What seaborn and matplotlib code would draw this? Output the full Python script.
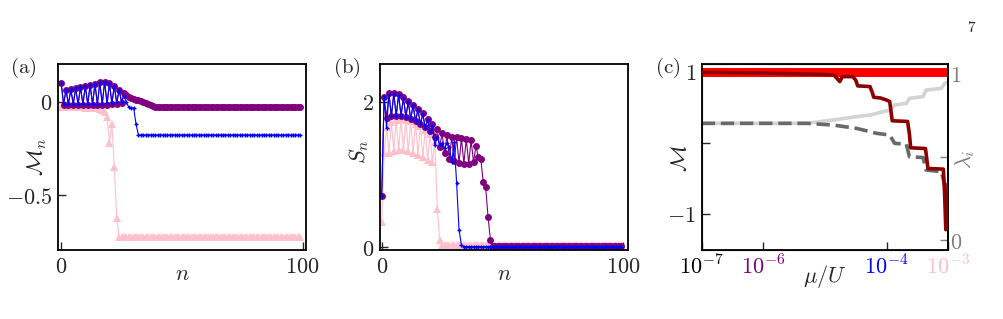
import numpy as np
import pandas as pd
import seaborn as sns
import matplotlib.pyplot as plt

# site index for panels (a) and (b)
n = np.arange(100)

# panel (a): magnetisation per site M_n
a_purple = ([0.100, -0.018, 0.063, -0.018, 0.067, -0.018, 0.072, -0.018, 0.078, -0.018,
             0.084, -0.018, 0.090, -0.018, 0.097, -0.018, 0.104, -0.018, 0.107, -0.016,
             0.100, -0.013, 0.085, -0.010, 0.065, -0.005, 0.048, 0.036, 0.027, 0.020,
             0.015, 0.011, 0.007, 0.004, 0.000, -0.006, -0.013, -0.020, -0.025]
            + [-0.027] * 61)
a_blue = ([0.100, -0.010, 0.063, -0.010, 0.067, -0.010, 0.072, -0.010, 0.078, -0.010,
           0.084, -0.010, 0.090, -0.010, 0.097, -0.010, 0.104, -0.010, 0.107, -0.008,
           0.100, -0.006, 0.085, -0.004, 0.065, 0.000, 0.030, -0.002, -0.030, -0.036,
           -0.032, -0.120]
          + [-0.178] * 68)
a_pink = ([-0.030] * 10
          + [-0.033, -0.033, -0.033, -0.034, -0.035, -0.036, -0.040, -0.045, -0.055, -0.080,
             -0.220, -0.120, -0.350, -0.620]
          + [-0.725] * 76)

# panel (b): entanglement entropy S_n
b_purple = ([0.70, 2.07, 1.78, 2.12, 1.80, 2.12, 1.81, 2.10, 1.81, 2.06,
             1.79, 2.01, 1.76, 1.96, 1.73, 1.90, 1.69, 1.84, 1.65, 1.76,
             1.60, 1.69, 1.52, 1.62, 1.38, 1.57, 1.29, 1.54, 1.22, 1.52,
             1.18, 1.51, 1.16, 1.50, 1.15, 1.49, 1.15, 1.47, 1.17, 1.39,
             1.24, 1.22, 0.90, 0.83, 0.42, 0.10]
            + [0.02] * 54)
b_blue = ([0.70, 2.07, 1.64, 2.10, 1.80, 2.10, 1.81, 2.09, 1.81, 2.05,
           1.79, 2.00, 1.76, 1.95, 1.73, 1.89, 1.69, 1.83, 1.64, 1.75,
           1.58, 1.66, 1.40, 1.52, 1.40, 1.43, 1.36, 1.43, 1.38, 1.17,
           1.45, 0.88, 0.24, 0.03]
          + [0.01] * 66)
b_pink = ([0.35, 1.29, 1.65, 1.30, 1.72, 1.32, 1.75, 1.33, 1.76, 1.33,
           1.75, 1.32, 1.73, 1.30, 1.70, 1.27, 1.66, 1.24, 1.61, 1.20,
           1.55, 1.17, 1.45, 0.53, 0.10]
          + [0.03] * 75)

# panel (c): total magnetisation vs log10(mu/U)
c_logmu_M = [-7.0, -6.0, -5.5, -5.0, -4.85, -4.80, -4.76, -4.72, -4.55, -4.50,
             -4.47, -4.27, -4.23, -4.21, -4.10, -4.00, -3.95, -3.93, -3.91, -3.66,
             -3.63, -3.61, -3.37, -3.35, -3.33, -3.08, -3.06, -3.04, -3.02, -3.00]
c_M = [0.99, 0.98, 0.97, 0.96, 0.95, 0.90, 0.86, 0.93, 0.93, 0.88,
       0.80, 0.79, 0.70, 0.64, 0.63, 0.60, 0.58, 0.45, 0.31, 0.30,
       0.12, -0.07, -0.08, -0.22, -0.36, -0.37, -0.70, -1.22, -0.90, -0.57]
# eigenvalues lambda_i (right axis)
c_logmu_lam = [-7.0, -5.3, -4.87, -4.49, -4.27, -4.16, -3.95, -3.87, -3.68, -3.63,
               -3.41, -3.36, -3.11, -3.06, -3.00]
c_lam_low = [0.70, 0.70, 0.69, 0.67, 0.65, 0.64, 0.63, 0.58, 0.575, 0.50,
             0.495, 0.42, 0.41, 0.33, 0.33]
c_lam_high = [0.70, 0.70, 0.72, 0.74, 0.75, 0.76, 0.78, 0.81, 0.82, 0.85,
              0.86, 0.90, 0.91, 0.94, 0.95]
c_band = [0.93, 1.05]

# x tick labels of (c) and their colours
c_xticks = [1e-7, 1e-6, 1e-4, 1e-3]
c_xticklabels = [r'$10^{-7}$', r'$10^{-6}$', r'$10^{-4}$', r'$10^{-3}$']
c_xtickcolors = ['black', 'purple', 'blue', 'pink']

sns.set_style("ticks")
plt.rcParams['font.family'] = ['DejaVu Serif']
plt.rcParams['mathtext.fontset'] = 'cm'

fig = plt.figure(figsize=(10.04, 3.19), dpi=100)
axa = fig.add_axes([0.0578, 0.2163, 0.247, 0.583])
axb = fig.add_axes([0.3785, 0.2163, 0.2467, 0.583])
axc = fig.add_axes([0.6989, 0.2163, 0.2456, 0.583])

line_kw = dict(lw=0.8, estimator=None, sort=False, legend=False)


def plot_series(ax, pink, purple, blue):
    sns.lineplot(x=n, y=pink, ax=ax, color='pink', marker='^', markersize=6,
                 markeredgewidth=0, **line_kw)
    sns.lineplot(x=n, y=purple, ax=ax, color='purple', marker='o', markersize=5,
                 markeredgewidth=0, **line_kw)
    sns.lineplot(x=n, y=blue, ax=ax, color='blue', marker='+', markersize=3,
                 markeredgewidth=1, markeredgecolor='blue', **line_kw)


plot_series(axa, a_pink, a_purple, a_blue)
plot_series(axb, b_pink, b_purple, b_blue)

for ax in (axa, axb):
    ax.set_xticks([0, 100])
    ax.set_xticklabels(['$0$', '$100$'])
    ax.set_xlabel('$n$', fontsize=16)
    ax.xaxis.set_label_coords(0.5, -0.07)

axa.set_xlim(-1.3, 101.4)
axa.set_ylim(-0.794, 0.202)
axa.set_yticks([0, -0.5])
axa.set_yticklabels(['$0$', r'$-0.5$'])
axa.set_ylabel(r'$\mathcal{M}_n$', fontsize=16)
axa.yaxis.set_label_coords(-0.035, 0.5)

axb.set_xlim(-0.7, 101.8)
axb.set_ylim(-0.037, 2.518)
axb.set_yticks([0, 2])
axb.set_yticklabels(['$0$', '$2$'])
axb.set_ylabel('$S_n$', fontsize=16)
axb.yaxis.set_label_coords(-0.035, 0.53)

# panel (c)
mu_M = 10 ** np.array(c_logmu_M)
mu_lam = 10 ** np.array(c_logmu_lam)
axc.fill_between([1e-7, 1e-3], c_band[0], c_band[1], color='red', lw=0, zorder=1)
sns.lineplot(x=mu_M, y=c_M, ax=axc, color='darkred', lw=2.6, estimator=None,
             sort=False, legend=False, zorder=3)
axc.set_xscale('log')
axc.set_xlim(1e-7, 1e-3)
axc.set_ylim(-1.506, 1.107)
axc.set_xticks(c_xticks)
axc.xaxis.set_minor_locator(plt.NullLocator())
axc.set_xticklabels(c_xticklabels)
for lab, col in zip(axc.get_xticklabels(), c_xtickcolors):
    lab.set_color(col)
axc.set_yticks([1, 0, -1])
axc.set_yticklabels(['$1$', '', r'$-1$'])
axc.set_xlabel(r'$\mu/U$', fontsize=16)
axc.xaxis.set_label_coords(0.5, -0.07)
axc.set_ylabel(r'$\mathcal{M}$', fontsize=16)
axc.yaxis.set_label_coords(-0.04, 0.49)

axc2 = axc.twinx()
sns.lineplot(x=mu_lam, y=c_lam_high, ax=axc2, color='lightgray', lw=2.6,
             estimator=None, sort=False, legend=False)
sns.lineplot(x=mu_lam, y=c_lam_low, ax=axc2, color='dimgray', lw=2.6,
             linestyle='--', dashes=(3, 1.4), estimator=None, sort=False, legend=False)
axc2.set_xlim(1e-7, 1e-3)
axc2.set_ylim(-0.06, 1.056)
axc2.set_yticks([0, 0.5, 1])
axc2.set_yticklabels(['$0$', '', '$1$'])
axc2.tick_params(axis='y', direction='in', length=6, width=1, color='gray',
                 labelcolor='gray', labelsize=16, pad=1)
axc2.set_ylabel(r'$\lambda_i$', fontsize=16, color='gray')
axc2.yaxis.set_label_coords(1.02, 0.49)
axc2.spines['right'].set_linewidth(1.3)
axc.set_zorder(axc2.get_zorder() + 1)
axc.patch.set_visible(False)

for ax in (axa, axb, axc):
    ax.tick_params(direction='in', length=6, width=1, labelsize=16, pad=4,
                   right=False, top=False)
    for sp in ax.spines.values():
        sp.set_visible(True)
        sp.set_linewidth(1.3)
        sp.set_color('black')

fig.text(0.010, 0.77, r'$\mathrm{(a)}$', fontsize=15)
fig.text(0.332, 0.77, r'$\mathrm{(b)}$', fontsize=15)
fig.text(0.652, 0.77, r'$\mathrm{(c)}$', fontsize=15)
fig.text(0.963, 0.90, '$7$', fontsize=11)

fig.savefig('out.png', dpi=100)
